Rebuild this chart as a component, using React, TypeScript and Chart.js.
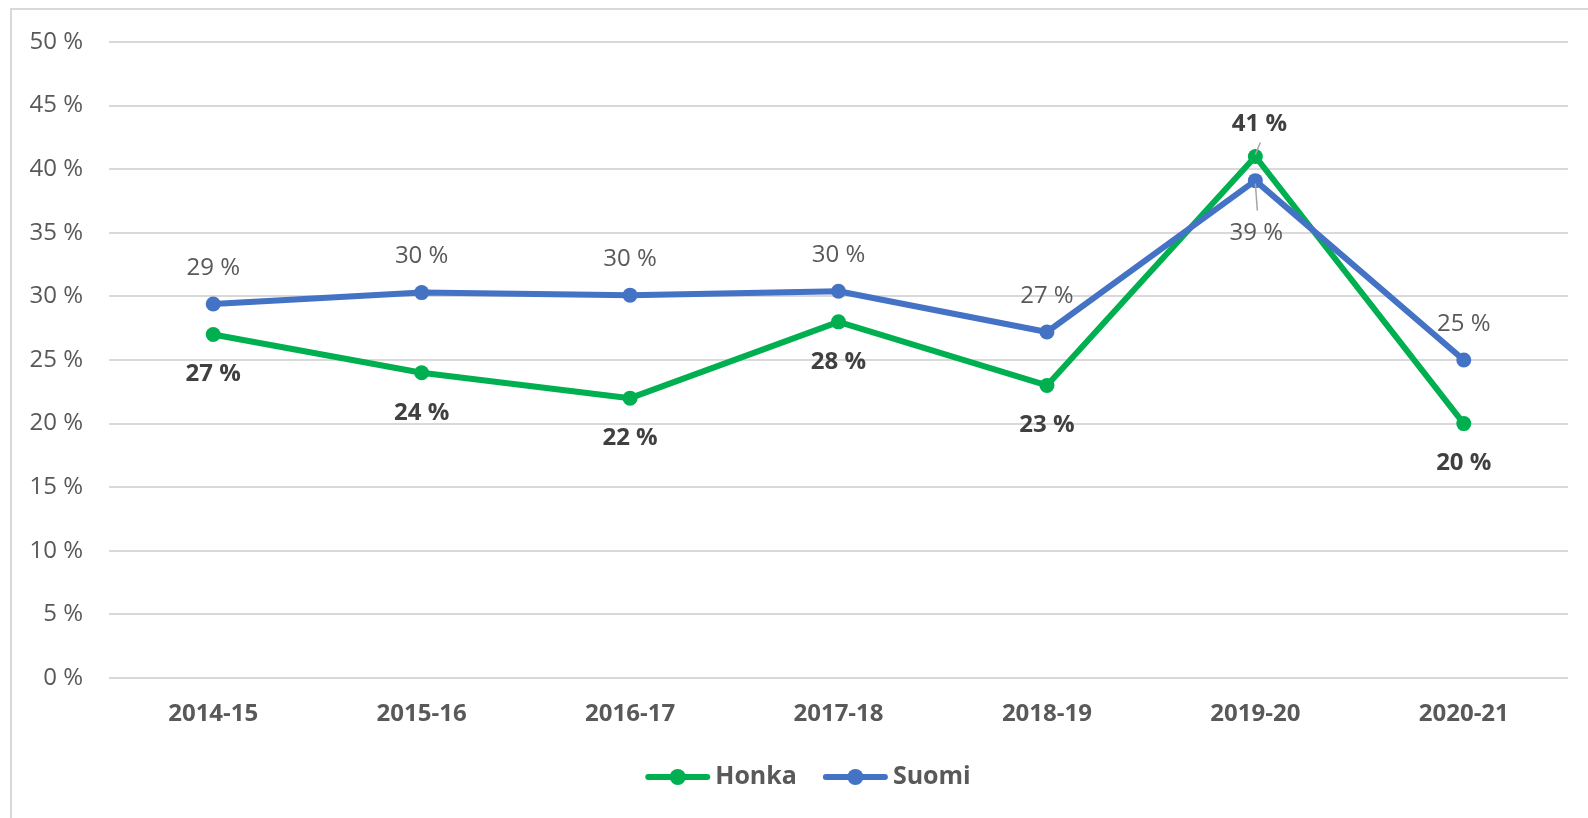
import React, { useEffect, useRef } from "react";
import { Chart, registerables } from "chart.js";

Chart.register(...registerables);

const categories = ["2014-15", "2015-16", "2016-17", "2017-18", "2018-19", "2019-20", "2020-21"];
const seriesNames = ["Honka", "Suomi"];
const honkaValues = [27, 24, 22, 28, 23, 41, 20];
const suomiValues = [29.4, 30.3, 30.1, 30.4, 27.2, 39.1, 25.0];
const yMin = 0;
const yMax = 50;
const yStep = 5;

const GREEN = "#00B050";
const BLUE = "#4472C4";
const FONT = '"Open Sans", "Noto Sans", sans-serif';
const W = 1588;
const H = 818;

const fmt = (v: number) => `${Math.round(v)} %`;

const framePlugin = {
  id: "frame",
  beforeDraw(chart: any) {
    const ctx = chart.ctx;
    ctx.save();
    ctx.fillStyle = "#ffffff";
    ctx.fillRect(0, 0, chart.width, chart.height);
    ctx.fillStyle = "#D9D9D9";
    ctx.fillRect(10, 8, 2, chart.height - 8);
    ctx.fillRect(10, 8, chart.width - 10, 2);
    ctx.restore();
  },
};

// labels: Honka below, Suomi above, swapped at the 2019-20 peak (with leader lines)
const labelPlugin = {
  id: "pointLabels",
  afterDatasetsDraw(chart: any) {
    const ctx = chart.ctx;
    const flipIndex = 5;
    ctx.save();
    ctx.textAlign = "center";
    ctx.textBaseline = "middle";
    chart.data.datasets.forEach((ds: any, di: number) => {
      const meta = chart.getDatasetMeta(di);
      const isHonka = di === 0;
      ctx.font = `${isHonka ? "bold " : ""}24px ${FONT}`;
      ctx.fillStyle = isHonka ? "#404040" : "#595959";
      meta.data.forEach((pt: any, j: number) => {
        const v = ds.data[j];
        let dx = 0;
        let dy: number;
        if (j === flipIndex) {
          ctx.strokeStyle = "#A6A6A6";
          ctx.lineWidth = 1.5;
          ctx.beginPath();
          if (isHonka) {
            dx = 4;
            dy = -32;
            ctx.moveTo(pt.x + 5, pt.y - 14);
            ctx.lineTo(pt.x, pt.y - 2);
          } else {
            dx = 1;
            dy = 53;
            ctx.moveTo(pt.x, pt.y + 3);
            ctx.lineTo(pt.x + 2, pt.y + 30);
          }
          ctx.stroke();
        } else {
          dy = isHonka ? 40 : -36;
        }
        ctx.fillText(fmt(v), pt.x + dx, pt.y + dy);
      });
    });
    ctx.restore();
  },
};

const legendPlugin = {
  id: "customLegend",
  afterDraw(chart: any) {
    const ctx = chart.ctx;
    const colors = [GREEN, BLUE];
    const markerW = 65;
    const textGap = 5;
    const itemGap = 26;
    const cy = 777;
    const centerX = 808;
    ctx.save();
    ctx.font = `bold 25px ${FONT}`;
    const widths = seriesNames.map((n) => ctx.measureText(n).width);
    const total = widths.reduce((a, w) => a + markerW + textGap + w, 0) + itemGap * (seriesNames.length - 1);
    let x = centerX - total / 2;
    seriesNames.forEach((name, i) => {
      ctx.strokeStyle = colors[i];
      ctx.lineWidth = 6;
      ctx.lineCap = "round";
      ctx.beginPath();
      ctx.moveTo(x + 3, cy);
      ctx.lineTo(x + markerW - 3, cy);
      ctx.stroke();
      ctx.fillStyle = colors[i];
      ctx.beginPath();
      ctx.arc(x + markerW / 2, cy, 8, 0, Math.PI * 2);
      ctx.fill();
      ctx.fillStyle = "#595959";
      ctx.textAlign = "left";
      ctx.textBaseline = "middle";
      ctx.fillText(name, x + markerW + textGap, cy);
      x += markerW + textGap + widths[i] + itemGap;
    });
    ctx.restore();
  },
};

export default function App() {
  const ref = useRef<HTMLCanvasElement | null>(null);

  useEffect(() => {
    if (!ref.current) return;
    const lineDs = (label: string, data: number[], color: string, order: number) => ({
      label,
      data,
      borderColor: color,
      backgroundColor: color,
      borderWidth: 6,
      pointRadius: 7.5,
      pointBorderWidth: 0,
      pointBackgroundColor: color,
      pointBorderColor: color,
      tension: 0,
      borderJoinStyle: "round" as const,
      borderCapStyle: "round" as const,
      order,
    });
    const chart = new Chart(ref.current, {
      type: "line",
      data: {
        labels: categories,
        datasets: [
          lineDs(seriesNames[0], honkaValues, GREEN, 2),
          lineDs(seriesNames[1], suomiValues, BLUE, 1),
        ],
      },
      options: {
        responsive: false,
        animation: false,
        events: [],
        layout: { padding: { left: 0, right: 20, top: 42, bottom: 80 } },
        plugins: {
          legend: { display: false },
          tooltip: { enabled: false },
        },
        scales: {
          x: {
            offset: true,
            grid: { display: false },
            border: { display: false },
            ticks: {
              color: "#595959",
              font: { family: FONT, size: 24, weight: "bold" },
              padding: 14,
              maxRotation: 0,
              autoSkip: false,
            },
            afterFit: (s: any) => {
              s.height = 60;
            },
          },
          y: {
            min: yMin,
            max: yMax,
            ticks: {
              stepSize: yStep,
              color: "#595959",
              font: { family: FONT, size: 24 },
              padding: 26,
              callback: (v: any) => `${v} %`,
            },
            grid: { color: "#D9D9D9", lineWidth: 2, drawTicks: false },
            border: { display: false },
            afterFit: (s: any) => {
              s.width = 109;
            },
          },
        },
      },
      plugins: [framePlugin, labelPlugin, legendPlugin],
    });
    return () => chart.destroy();
  }, []);

  return (
    <div style={{ position: "fixed", left: 0, top: 0, width: W, height: H, background: "#fff" }}>
      <canvas ref={ref} width={W} height={H} style={{ width: W, height: H, display: "block" }} />
    </div>
  );
}
